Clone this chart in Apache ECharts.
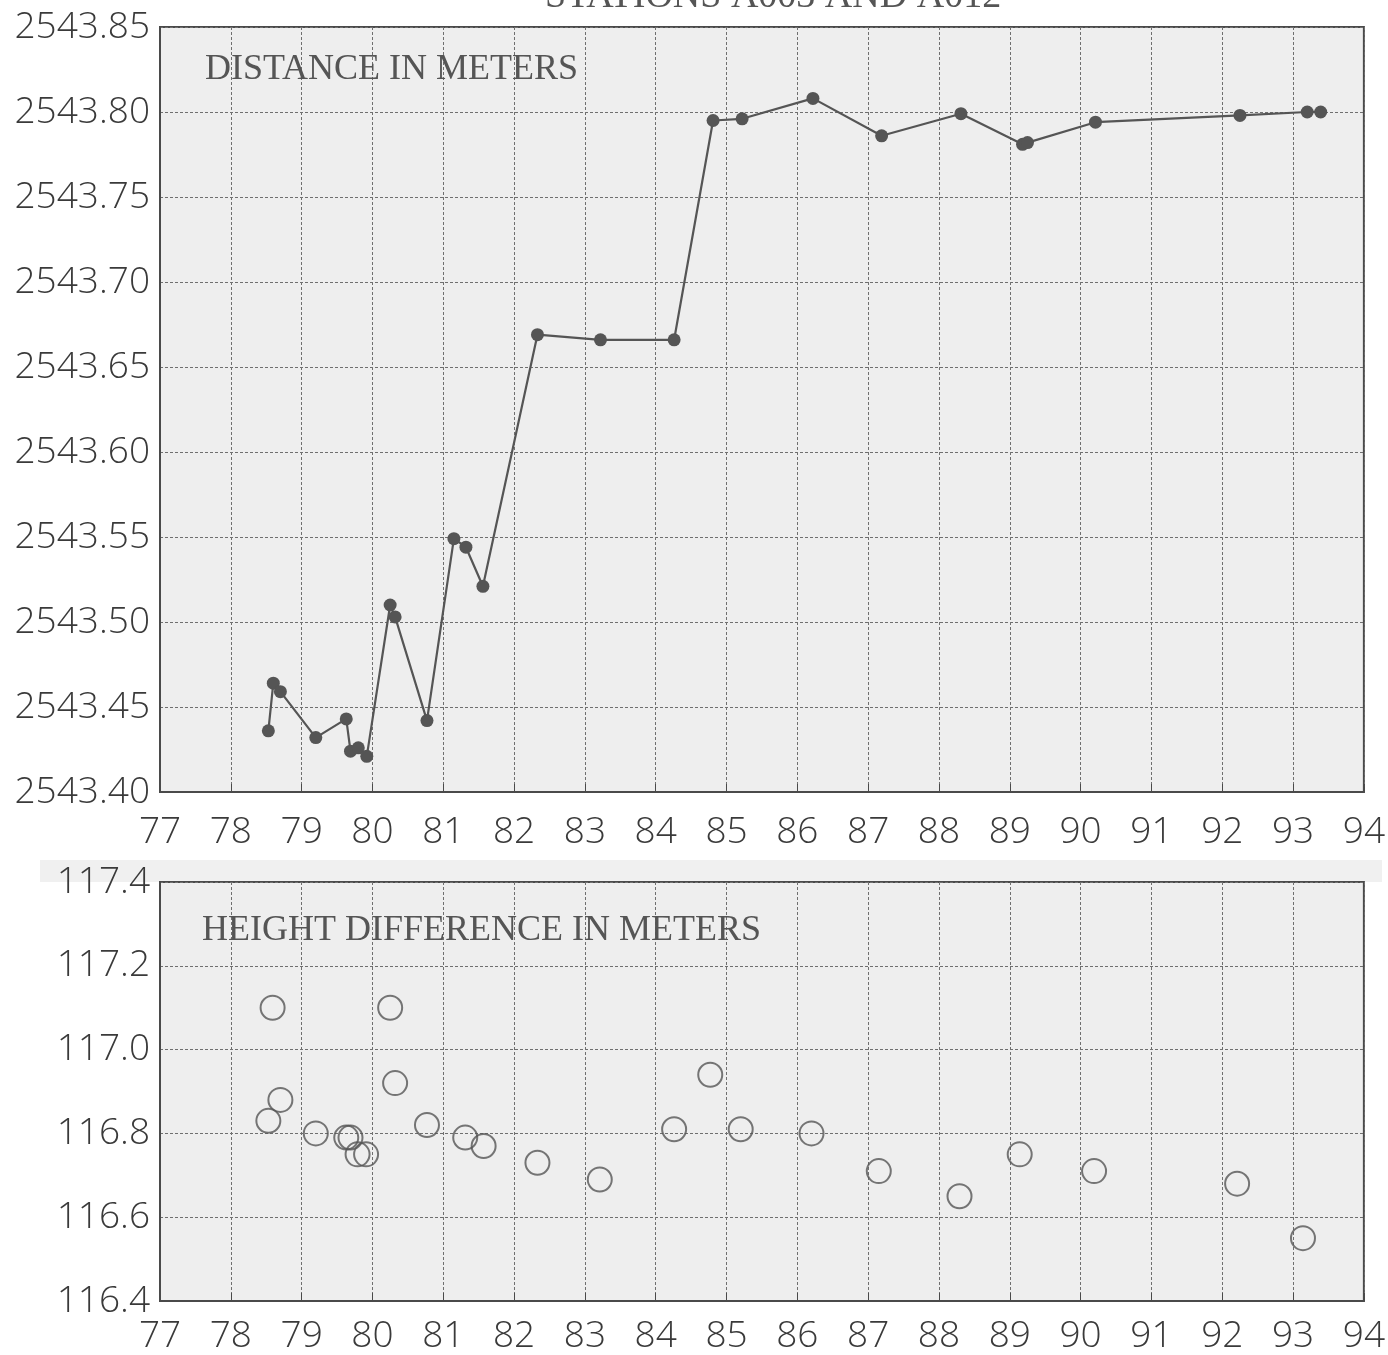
<!DOCTYPE html>
<html><head><meta charset="utf-8">
<script src="https://cdn.jsdelivr.net/npm/echarts@6/dist/echarts.min.js"></script>
<style>html,body{margin:0;padding:0;background:#fff}#c{width:1388px;height:1355px}</style>
</head><body><div id="c"></div>
<script>
const titleText = "STATIONS A003 AND A012";
const topLabel = "DISTANCE IN METERS";
const bottomLabel = "HEIGHT DIFFERENCE IN METERS";
const xTicks = [77,78,79,80,81,82,83,84,85,86,87,88,89,90,91,92,93,94];
const distYears = [78.53,78.60,78.70,79.20,79.63,79.69,79.80,79.92,80.25,80.32,80.77,81.15,81.32,81.56,82.33,83.22,84.26,84.81,85.22,86.22,87.19,88.31,89.18,89.25,90.21,92.25,93.20,93.39];
const distValues = [2543.436,2543.464,2543.459,2543.432,2543.443,2543.424,2543.426,2543.421,2543.510,2543.503,2543.442,2543.549,2543.544,2543.521,2543.669,2543.666,2543.666,2543.795,2543.796,2543.808,2543.786,2543.799,2543.781,2543.782,2543.794,2543.798,2543.800,2543.800];
const hYears = [78.53,78.59,78.70,79.20,79.63,79.69,79.79,79.91,80.25,80.32,80.77,81.31,81.57,82.33,83.21,84.26,84.77,85.20,86.20,87.15,88.29,89.14,90.19,92.21,93.14];
const hValues = [116.83,117.10,116.88,116.80,116.79,116.79,116.75,116.75,117.10,116.92,116.82,116.79,116.77,116.73,116.69,116.81,116.94,116.81,116.80,116.71,116.65,116.75,116.71,116.68,116.55];

const ink = '#4a4a4a';
const labelFont = {fontFamily:'Open Sans', fontWeight:300, fontSize:37, color:'#3a3a3a'};
function xAxis(gi, margin){
  return {type:'value', gridIndex:gi, min:xTicks[0], max:xTicks[xTicks.length-1], interval:1,
    axisLine:{show:true, lineStyle:{color:ink, width:2}},
    axisTick:{show:true, inside:true, length:8, lineStyle:{color:ink}},
    axisLabel:Object.assign({margin:margin}, labelFont),
    splitLine:{show:true, lineStyle:{color:'#6f6f6f', width:1, type:[3,2]}}};
}
function yAxis(gi, min, max, interval, dec){
  return {type:'value', gridIndex:gi, min:min, max:max, interval:interval,
    axisLine:{show:true, lineStyle:{color:ink, width:2}},
    axisTick:{show:false},
    axisLabel:Object.assign({margin:10, formatter:v=>v.toFixed(dec)}, labelFont),
    splitLine:{show:true, lineStyle:{color:'#6f6f6f', width:1, type:[3,2]}}};
}
const serif = '36px "Liberation Serif"';
const chart = echarts.init(document.getElementById('c'), null, {renderer:'canvas'});
chart.setOption({
  backgroundColor:'#fff',
  animation:false,
  grid:[
    {left:160, right:19, top:27, height:765, show:true, backgroundColor:'#eeeeee', borderColor:ink, borderWidth:2},
    {left:160, right:23, top:882, height:423, show:true, backgroundColor:'#eeeeee', borderColor:ink, borderWidth:2}
  ],
  xAxis:[xAxis(0,22), xAxis(1,17)],
  yAxis:[yAxis(0,2543.40,2543.85,0.05,2), yAxis(1,116.4,117.4,0.2,1)],
  graphic:[
    {type:'rect', z:-1, shape:{x:40, y:860, width:1342, height:22}, style:{fill:'#f0f0f0'}},
    {type:'text', left:545, top:-22, style:{text:titleText, font:'38px "Liberation Serif"', fill:'#555'}},
    {type:'text', left:205, top:52, z:10, style:{text:topLabel, font:serif, fill:'#555'}},
    {type:'text', left:202, top:913, z:10, style:{text:bottomLabel, font:serif, fill:'#555'}}
  ],
  series:[
    {type:'line', xAxisIndex:0, yAxisIndex:0, data:distYears.map((x,i)=>[x,distValues[i]]),
      symbol:'circle', symbolSize:13, itemStyle:{color:'#555'}, lineStyle:{color:'#555', width:2.2}},
    {type:'scatter', xAxisIndex:1, yAxisIndex:1, data:hYears.map((x,i)=>[x,hValues[i]]),
      symbol:'circle', symbolSize:24, itemStyle:{color:'rgba(0,0,0,0)', borderColor:'#555', borderWidth:2}}
  ]
});
</script></body></html>
